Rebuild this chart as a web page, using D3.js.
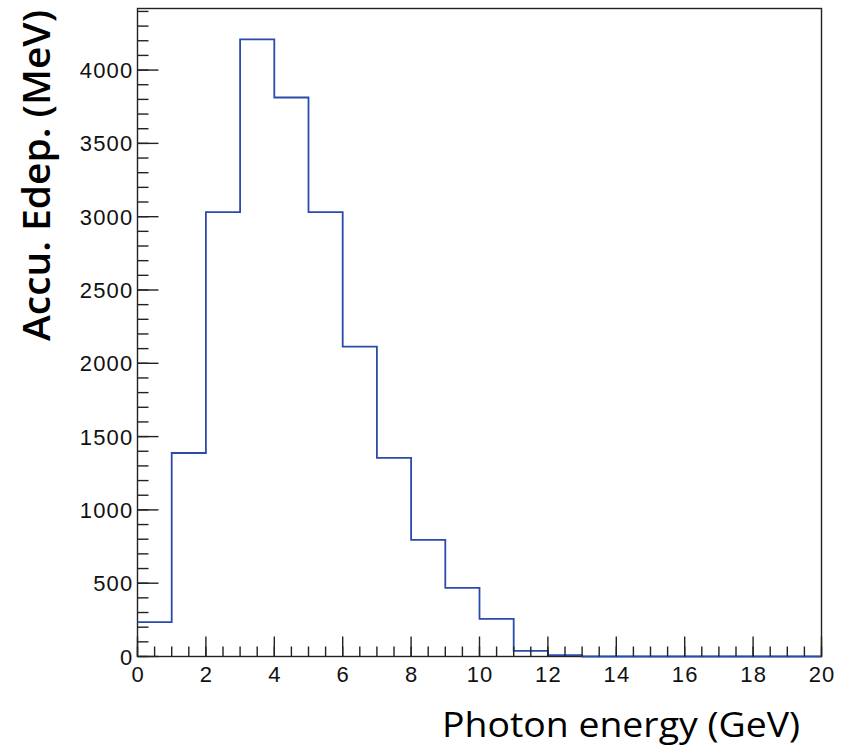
<!DOCTYPE html>
<html>
<head>
<meta charset="utf-8">
<script src="https://cdn.jsdelivr.net/npm/d3@7"></script>
<style>
  html, body { margin: 0; padding: 0; background: #fff; }
  svg { display: block; }
  .tick-label { font-family: "Liberation Sans", Arial, sans-serif; font-size: 22px; letter-spacing: 1.2px; fill: #111; }
  .axis-title { font-family: "Open Sans", "Noto Sans", sans-serif; fill: #000; }
</style>
</head>
<body>
<svg id="chart" width="848" height="746"></svg>
<script>
(function () {
  'use strict';

  // photon energy bin edges (GeV) and accumulated deposited energy per bin (MeV)
  const binEdges = [0, 1, 2, 3, 4, 5, 6, 7, 8, 9, 10, 11, 12, 13, 14, 15, 16, 17, 18, 19, 20];
  const edepValues = [234, 1388, 3031, 4210, 3813, 3031, 2114, 1355, 795, 468, 257, 38, 10, 0, 0, 0, 0, 0, 0, 0];

  const xTickValues = [0, 2, 4, 6, 8, 10, 12, 14, 16, 18, 20];
  const yTickValues = [0, 500, 1000, 1500, 2000, 2500, 3000, 3500, 4000];

  const xTitle = 'Photon energy (GeV)';
  const yTitle = 'Accu. Edep. (MeV)';

  const W = 848;
  const H = 746;
  const M = { left: 137.5, right: 26.5, top: 8.5, bottom: 89.5 };
  const MAJOR = 20;
  const MINOR = 10;

  const svg = d3.select('#chart');

  const x = d3.scaleLinear().domain([0, 20]).range([M.left, W - M.right]);
  const y = d3.scaleLinear().domain([0, 4420]).range([H - M.bottom, M.top]);

  // frame
  svg.append('rect')
    .attr('x', M.left)
    .attr('y', M.top)
    .attr('width', W - M.left - M.right)
    .attr('height', H - M.top - M.bottom)
    .attr('fill', 'none')
    .attr('stroke', '#222')
    .attr('stroke-width', 1.4);

  // histogram outline
  const pts = binEdges.map((e, i) => [e, i < edepValues.length ? edepValues[i] : edepValues[edepValues.length - 1]]);
  const line = d3.line()
    .x(d => x(d[0]))
    .y(d => y(d[1]))
    .curve(d3.curveStepAfter);

  svg.append('path')
    .attr('d', line(pts))
    .attr('fill', 'none')
    .attr('stroke', '#2b4bac')
    .attr('stroke-width', 1.8);

  // x axis ticks (inward)
  const gx = svg.append('g').attr('transform', `translate(0,${y(0)})`);
  gx.selectAll('line.minor')
    .data(x.ticks(40))
    .join('line')
    .attr('x1', d => x(d)).attr('x2', d => x(d))
    .attr('y1', 0).attr('y2', -MINOR)
    .attr('stroke', '#222').attr('stroke-width', 1.4);
  gx.selectAll('line.major')
    .data(xTickValues)
    .join('line')
    .attr('x1', d => x(d)).attr('x2', d => x(d))
    .attr('y1', 0).attr('y2', -MAJOR)
    .attr('stroke', '#222').attr('stroke-width', 1.4);
  gx.selectAll('text')
    .data(xTickValues)
    .join('text')
    .attr('class', 'tick-label')
    .attr('x', d => x(d) + 0.6)
    .attr('y', 25)
    .attr('text-anchor', 'middle')
    .text(d => d);

  // y axis ticks (inward)
  const gy = svg.append('g').attr('transform', `translate(${x(0)},0)`);
  gy.selectAll('line.minor')
    .data(y.ticks(44))
    .join('line')
    .attr('x1', 0).attr('x2', MINOR + 1)
    .attr('y1', d => y(d)).attr('y2', d => y(d))
    .attr('stroke', '#222').attr('stroke-width', 1.4);
  gy.selectAll('line.major')
    .data(yTickValues)
    .join('line')
    .attr('x1', 0).attr('x2', MAJOR + 1)
    .attr('y1', d => y(d)).attr('y2', d => y(d))
    .attr('stroke', '#222').attr('stroke-width', 1.4);
  gy.selectAll('text')
    .data(yTickValues)
    .join('text')
    .attr('class', 'tick-label')
    .attr('x', -4)
    .attr('y', d => y(d) + 8)
    .attr('text-anchor', 'end')
    .text(d => d);

  // titles
  svg.append('text')
    .attr('class', 'axis-title')
    .attr('x', 442)
    .attr('y', 736.5)
    .attr('font-size', 34)
    .attr('textLength', 358)
    .attr('lengthAdjust', 'spacingAndGlyphs')
    .text(xTitle);

  svg.append('text')
    .attr('class', 'axis-title')
    .attr('transform', 'translate(50,341) rotate(-90)')
    .attr('font-size', 38)
    .attr('font-weight', 600)
    .attr('textLength', 331)
    .attr('lengthAdjust', 'spacingAndGlyphs')
    .text(yTitle);
})();
</script>
</body>
</html>
